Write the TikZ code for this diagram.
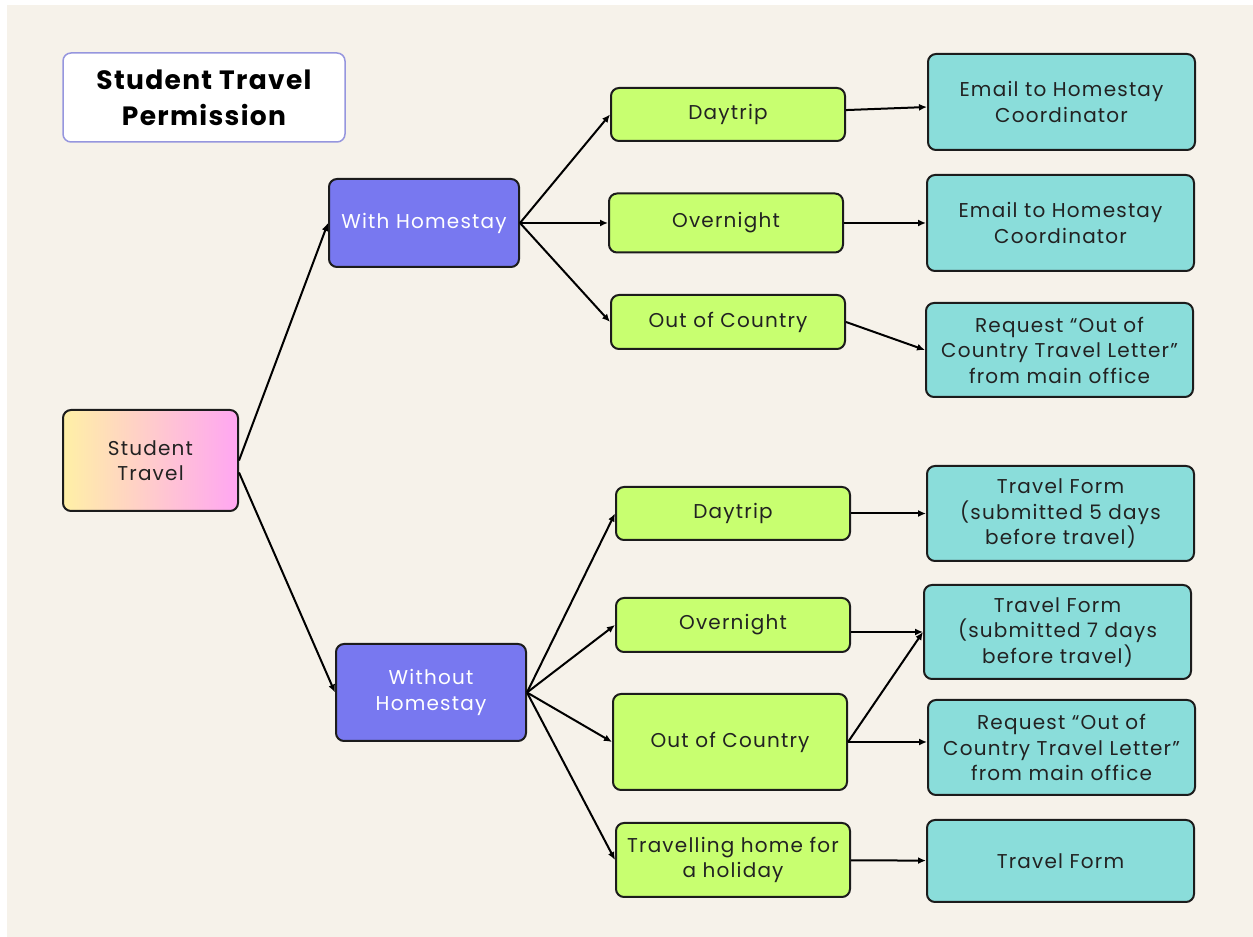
\documentclass[tikz,border=0pt]{standalone}
\usepackage{fontspec}
\setmainfont{Poppins}[LetterSpace=6]
\usepackage{tikz}
\usetikzlibrary{shapes,arrows,arrows.meta,positioning}
\definecolor{bgcream}{RGB}{246,242,234}
\definecolor{boxline}{RGB}{28,28,28}
\definecolor{textdark}{RGB}{34,34,34}
\definecolor{titleline}{RGB}{150,150,222}
\definecolor{startyellow}{RGB}{255,240,166}
\definecolor{startpink}{RGB}{255,166,242}
\definecolor{branchblue}{RGB}{120,120,240}
\definecolor{tripgreen}{RGB}{200,255,112}
\definecolor{actionteal}{RGB}{138,221,218}
\tikzstyle{box} = [draw=boxline, line width=2pt, rounded corners=8pt, align=center,
text=textdark, inner sep=3pt, font=\fontsize{20}{25.5}\selectfont]
\tikzstyle{heading} = [draw=titleline, fill=white, line width=1.5pt, rounded corners=8pt,
align=center, text=black, minimum width=282pt, minimum height=89pt,
font=\bfseries\fontsize{26.5}{36}\selectfont\addfontfeature{LetterSpace=5}]
\tikzstyle{start} = [box, left color=startyellow, right color=startpink,
minimum width=175pt, minimum height=101pt]
\tikzstyle{branch} = [box, fill=branchblue, text=white, minimum width=190pt]
\tikzstyle{trip} = [box, fill=tripgreen, minimum width=234pt, minimum height=54pt]
\tikzstyle{action} = [box, fill=actionteal, minimum width=267pt, minimum height=95pt]

\begin{document}
\begin{tikzpicture}[auto, >={Latex[length=8pt,width=7pt]}, x=1pt, y=1pt, line width=2pt]
		\fill[white] (0,0) rectangle (1253,937);
		\fill[bgcream] (7,0) rectangle (1253,932);
		\useasboundingbox (0,0) rectangle (1253,937);
		
		\node(heading)[heading] at (204,839.5) {Student Travel\\Permission};
		\node(sttravel)[start] at (150.5,476.5) {Student\\Travel};
		\node(withhome)[branch, minimum height=88pt, right=89pt of sttravel, yshift=237.5pt]{With Homestay};
		\node(withouthome)[branch, minimum height=97pt, right=96pt of sttravel, yshift=-232pt]{Without\\Homestay};
		
		\draw[->] (sttravel.east) -- (withhome.west);
		\draw[->] ([yshift=-12pt]sttravel.east) -- (withouthome.west);
		
		\node(dayone)[trip, minimum height=53pt, right=90pt of withhome, yshift=108.5pt]{Daytrip};
		\node(overone)[trip, minimum height=59pt, right=88pt of withhome]{Overnight};
		\node(oocone)[trip, right=90pt of withhome, yshift=-99pt]{Out of Country};
		
		\draw[->] (withhome.east) -- (dayone.west);
		\draw[->] (withhome.east) -- (overone.west);
		\draw[->] (withhome.east) -- (oocone.west);
		
		\node(daytwo)[trip, minimum height=53pt, right=88pt of withouthome, yshift=179pt]{Daytrip};
		\node(overtwo)[trip, right=88pt of withouthome, yshift=67.5pt]{Overnight};
		\node(ooctwo)[trip, minimum height=96pt, right=85pt of withouthome, yshift=-49.5pt]{Out of Country};
		\node(holiday)[trip, minimum height=74pt, right=88pt of withouthome, yshift=-167.5pt]{Travelling home for\\a holiday};
		
		\draw[->] (withouthome.east) -- (daytwo.west);
		\draw[->] (withouthome.east) -- (overtwo.west);
		\draw[->] (withouthome.east) -- (ooctwo.west);
		\draw[->] (withouthome.east) -- (holiday.west);
		
		\node(emailone)[action, minimum height=96pt, right=81pt of dayone, yshift=12.5pt]{Email to Homestay\\Coordinator};
		\node(emailtwo)[action, minimum height=96pt, right=82pt of overone]{Email to Homestay\\Coordinator};
		\node(letterone)[action, minimum height=94pt, right=79pt of oocone, yshift=-28pt]{Request “Out of\\Country Travel Letter”\\from main office};
		\node(formfive)[action, right=75pt of daytwo]{Travel Form\\(submitted 5 days\\before travel)};
		\node(formseven)[action, minimum height=94pt, right=72pt of overtwo, yshift=-7pt]{Travel Form\\(submitted 7 days\\before travel)};
		\node(lettertwo)[action, right=79pt of ooctwo, yshift=-5.5pt]{Request “Out of\\Country Travel Letter”\\from main office};
		\node(formhome)[action, minimum height=82pt, right=75pt of holiday, yshift=-1pt]{Travel Form};
		
		\draw[->] (dayone) -- (emailone);
		\draw[->] (overone) -- (emailtwo);
		\draw[->] (oocone.east) -- (letterone.west);
		\draw[->] (daytwo) -- (formfive);
		\draw[->] ([yshift=-7pt]overtwo.east) -- (formseven.west);
		\draw[->] (ooctwo.east) -- (formseven.west);
		\draw[->] (ooctwo.east) -- (ooctwo.east -| lettertwo.west);
		\draw[->] (holiday) -- (formhome);
\end{tikzpicture}
\end{document}
